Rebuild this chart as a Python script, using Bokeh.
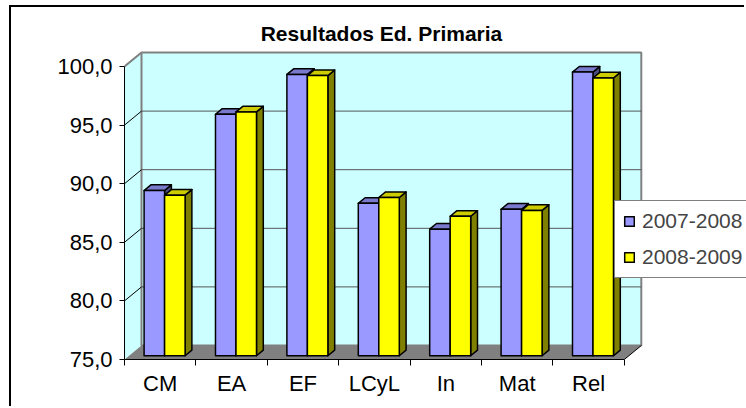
from bokeh.plotting import figure
from bokeh.models import (ColumnDataSource, Range1d, FixedTicker, CustomJSTickFormatter,
                          Legend, LegendItem, Label)
from bokeh.embed import file_html
from bokeh.resources import INLINE

# ---------------- data ----------------
categories = ["CM", "EA", "EF", "LCyL", "In", "Mat", "Rel"]
series_names = ["2007-2008", "2008-2009"]
values_2007 = [89.1, 95.6, 99.0, 88.0, 85.8, 87.5, 99.2]
values_2008 = [88.7, 95.8, 98.9, 88.5, 86.9, 87.4, 98.7]
y_ticks = [75, 80, 85, 90, 95, 100]

# ---------------- geometry / style ----------------
OX, OY = 11, 7               # canvas offset inside page (after chart border)
W, H = 746 - OX, 408 - OY
FL, FB = 124 - OX, 359 - OY  # frame left / frame bottom (canvas px)
PX_X = 71.4                  # px per category
PX_Y = 11.72                 # px per y unit
Y0, Y1 = y_ticks[0], y_ticks[-1]
N = len(categories)
x_end = (W - FL) / PX_X
y_end = Y0 + FB / PX_Y
DX = 17 / PX_X               # 3D depth offset (x)
DY = 14 / PX_Y               # 3D depth offset (y)
BW = 20.5 / PX_X             # bar width
G0 = 15 / PX_X               # group offset inside category
FZ0, FZ1 = 0.27, 0.67        # bar depth fractions

FONT = "Liberation Sans"
front_cols = ["#9999FF", "#FFFF00"]
top_cols = ["#7A7ACC", "#CCCC00"]
side_cols = ["#4C4C80", "#808000"]

p = figure(width=W, height=H, output_backend="svg", toolbar_location=None, title=None,
           x_range=Range1d(0, x_end), y_range=Range1d(Y0, y_end),
           min_border_left=FL, min_border_right=0, min_border_top=0,
           min_border_bottom=H - FB,
           styles={"border-left": "2px solid black", "border-top": "2px solid black",
                   "margin-left": "9px", "margin-top": "5px"})
p.outline_line_color = None
p.xgrid.visible = False
p.ygrid.visible = False
p.background_fill_color = "white"
p.border_fill_color = "white"

# side wall
p.patch([0, 0, DX, DX], [Y0, Y1, Y1 + DY, Y0 + DY], fill_color="#CCFFFF",
        line_color=None)
# back wall
p.quad(left=[DX], right=[N + DX], bottom=[Y0 + DY], top=[Y1 + DY],
       fill_color="#CCFFFF", line_color="#808080", line_width=2)
# gridlines on back wall + connectors on side wall
inner = y_ticks[1:-1]
p.multi_line([[DX, N + DX] for v in inner], [[v + DY, v + DY] for v in inner],
             line_color="#555555", line_width=1)
p.multi_line([[0, DX] for v in inner], [[v, v + DY] for v in inner],
             line_color="black", line_width=1)
p.line([0, DX], [Y1, Y1 + DY], line_color="#808080", line_width=2)
# floor
p.patch([0, N, N + DX, DX], [Y0, Y0, Y0 + DY, Y0 + DY], fill_color="#808080",
        line_color=None)
p.line([N, N + DX], [Y0, Y0 + DY], line_color="black", line_width=1)

# bars
ddx = (FZ1 - FZ0) * DX
ddy = (FZ1 - FZ0) * DY
front_renderers = []
for s, vals in enumerate([values_2007, values_2008]):
    x0 = [i + G0 + s * BW + FZ0 * DX for i in range(N)]
    x1 = [a + BW for a in x0]
    bot = Y0 + FZ0 * DY
    top = [v + FZ0 * DY for v in vals]
    side_src = ColumnDataSource(dict(
        xs=[[b, b + ddx, b + ddx, b] for b in x1],
        ys=[[bot, bot + ddy, t + ddy, t] for t in top]))
    top_src = ColumnDataSource(dict(
        xs=[[a, b, b + ddx, a + ddx] for a, b in zip(x0, x1)],
        ys=[[t, t, t + ddy, t + ddy] for t in top]))
    front_src = ColumnDataSource(dict(left=x0, right=x1, top=top,
                                      bottom=[bot] * N))
    p.patches("xs", "ys", source=side_src, fill_color=side_cols[s],
              line_color="black", line_width=1.5, line_join="round")
    p.patches("xs", "ys", source=top_src, fill_color=top_cols[s],
              line_color="black", line_width=1.5, line_join="round")
    r = p.quad(left="left", right="right", top="top", bottom="bottom",
               source=front_src, fill_color=front_cols[s], line_color="black",
               line_width=1.5, line_join="round")
    front_renderers.append(r)

# axes
ya = p.yaxis[0]
ya.ticker = FixedTicker(ticks=y_ticks)
ya.bounds = (Y0, Y1)
ya.formatter = CustomJSTickFormatter(code="return tick.toFixed(1).replace('.', ',');")
ya.axis_line_color = "black"
ya.major_tick_out = 5
ya.major_tick_in = 0
ya.minor_tick_line_color = None
ya.major_label_text_font = FONT
ya.major_label_text_font_size = "22px"
ya.major_label_text_color = "black"
ya.major_label_standoff = 7

xa = p.xaxis[0]
xa.ticker = FixedTicker(ticks=[i + 0.5 for i in range(N)],
                        minor_ticks=list(range(N + 1)))
xa.bounds = (0, N)
xa.formatter = CustomJSTickFormatter(args=dict(cats=categories),
                                     code="return cats[Math.floor(tick)];")
xa.axis_line_color = "black"
xa.major_tick_out = 0
xa.major_tick_in = 0
xa.minor_tick_out = 6
xa.minor_tick_in = 0
xa.minor_tick_line_color = "black"
xa.major_label_text_font = FONT
xa.major_label_text_font_size = "22px"
xa.major_label_text_color = "black"
xa.major_label_standoff = 5

# title
p.add_layout(Label(x=(381 - OX - FL) / PX_X, y=Y0 + (FB - (33 - OY)) / PX_Y,
                   text="Resultados Ed. Primaria", text_font=FONT,
                   text_font_style="bold", text_font_size="21px",
                   text_align="center", text_baseline="alphabetic",
                   text_color="black"))

# legend
legend = Legend(items=[LegendItem(label=n, renderers=[r])
                       for n, r in zip(series_names, front_renderers)],
                location=(614 - OX - FL, FB - (278 - OY)), orientation="vertical",
                border_line_color="black", border_line_width=1,
                background_fill_color="white", background_fill_alpha=1,
                padding=8, spacing=12, label_height=22, glyph_height=12,
                glyph_width=12, label_standoff=7, margin=0,
                label_text_font=FONT, label_text_font_size="21px")
p.add_layout(legend, "center")

open("out.html", "w").write(file_html(p, INLINE))
